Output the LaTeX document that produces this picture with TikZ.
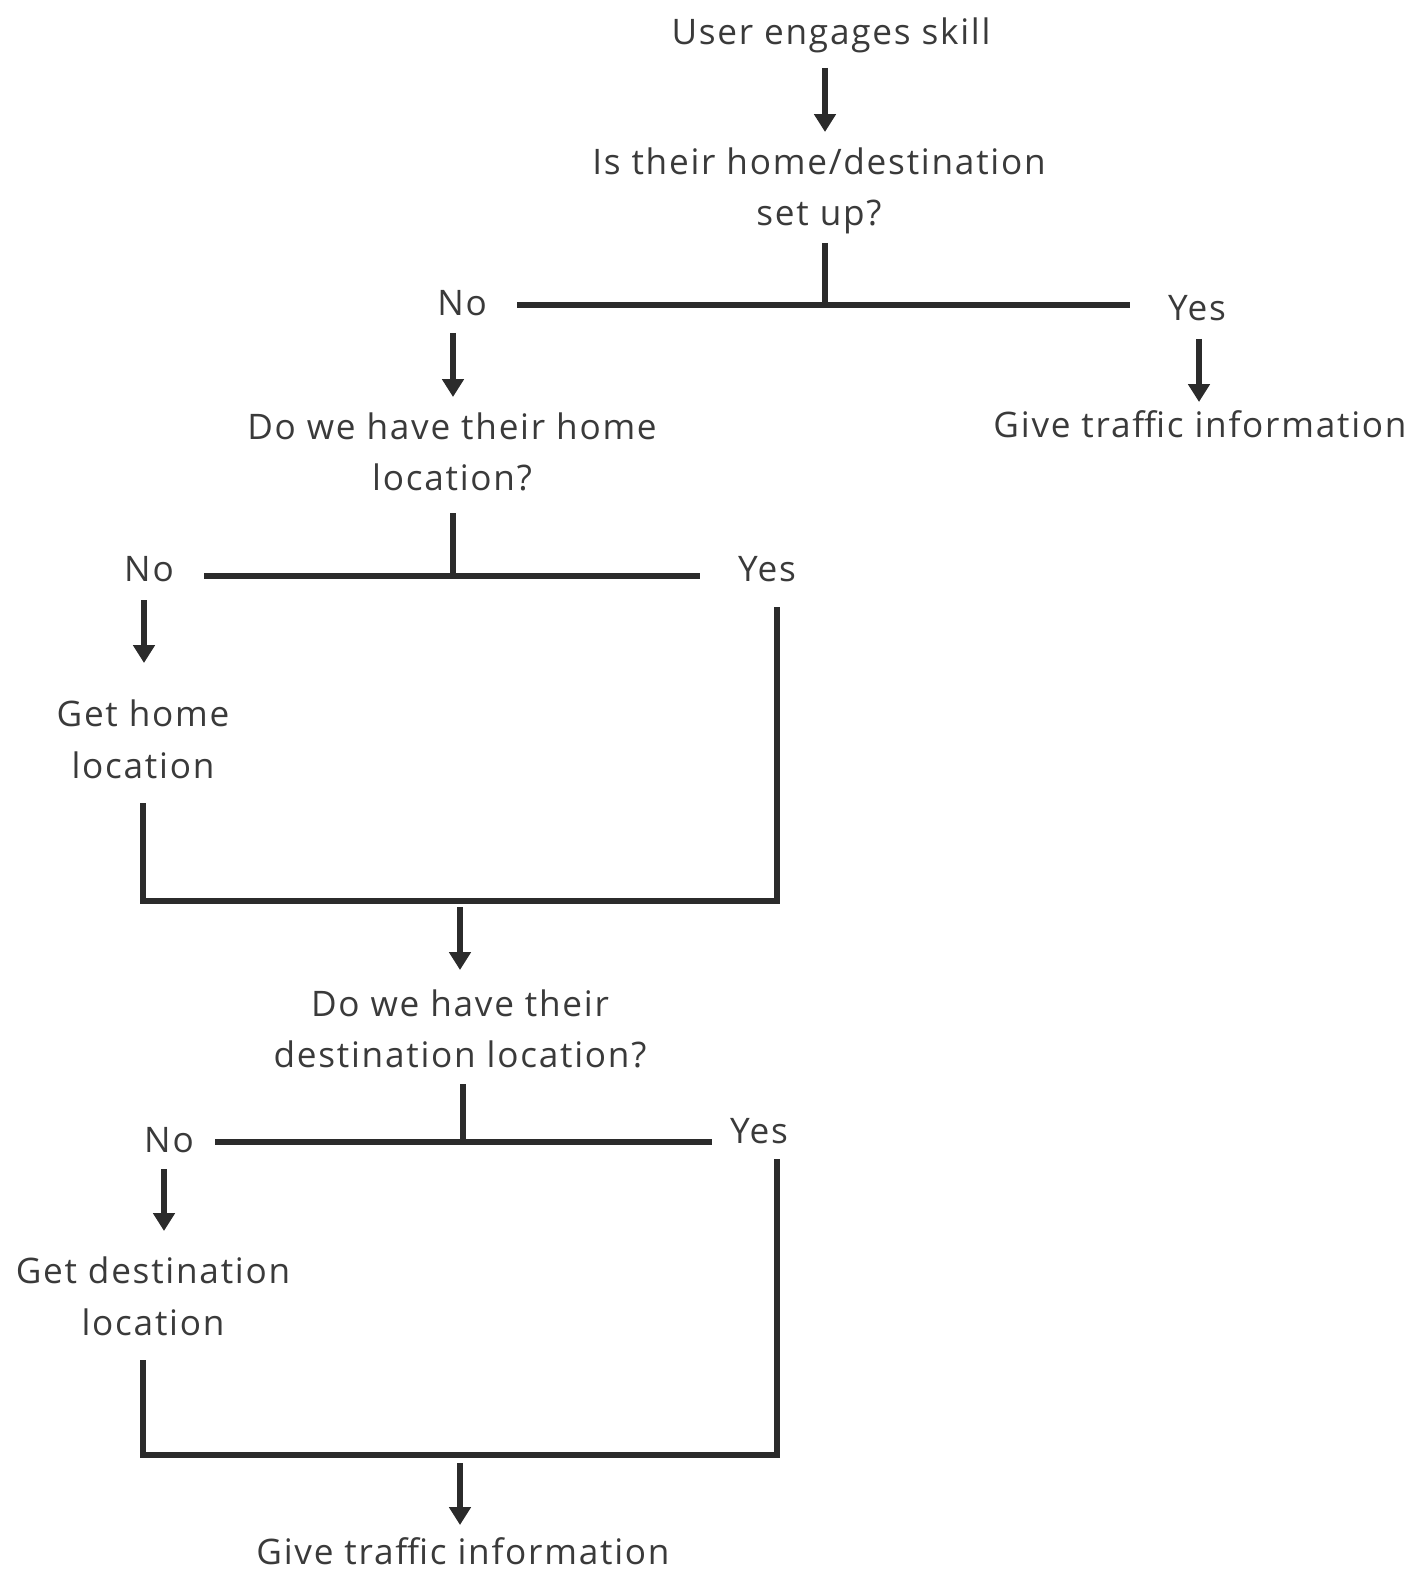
\documentclass[tikz,border=0pt]{standalone}
\usepackage{fontspec}
\setmainfont{Open Sans}[LetterSpace=5]
\usetikzlibrary{arrows.meta}
\definecolor{inkline}{HTML}{2B2B2B}
\definecolor{inktext}{HTML}{3A3A3A}
\tikzset{
  lbl/.style={align=center, inner sep=0pt, text=inktext, font=\fontsize{10}{14.7}\selectfont},
  flow/.style={line width=1.7pt, color=inkline},
  arr/.style={flow, -{Triangle[width=6pt,length=5.1pt]}}
}
\begin{document}
\begin{tikzpicture}[x=0.01cm,y=-0.01cm]
	\useasboundingbox (0,0) rectangle (1418,1573);
	% texts
	\node[lbl] (start) at (831,35) {User engages skill};
	\node[lbl] (q1) at (819,191) {Is their home/destination\\set up?};
	\node[lbl] (no1) at (462,303) {No};
	\node[lbl] (yes1) at (1197,308) {Yes};
	\node[lbl] (q2) at (452,452) {Do we have their home\\location?};
	\node[lbl] (done1) at (1200,424) {Give traffic information};
	\node[lbl] (no2) at (149,569) {No};
	\node[lbl] (yes2) at (767,569) {Yes};
	\node[lbl] (get1) at (143,739) {Get home\\location};
	\node[lbl] (q3) at (460,1029) {Do we have their\\destination location?};
	\node[lbl] (no3) at (169,1140) {No};
	\node[lbl] (yes3) at (759,1131) {Yes};
	\node[lbl] (get2) at (153,1296) {Get destination\\location};
	\node[lbl] (done2) at (463,1551) {Give traffic information};
	% line ends
	\coordinate (s1) at (825,68);   \coordinate (e1) at (825,132);
	\coordinate (t1) at (825,243);  \coordinate (m1) at (825,305);
	\coordinate (l1) at (517,305);  \coordinate (r1) at (1130,305);
	\coordinate (s2) at (453,333);  \coordinate (e2) at (453,397);
	\coordinate (s3) at (1199,339); \coordinate (e3) at (1199,402);
	\coordinate (t2) at (453,513);  \coordinate (m2) at (453,576);
	\coordinate (l2) at (204,576);  \coordinate (r2) at (700,576);
	\coordinate (s4) at (144,600);  \coordinate (e4) at (144,663);
	\coordinate (u1) at (143,803);  \coordinate (v1) at (777,607);
	\coordinate (s5) at (460,907);  \coordinate (e5) at (460,970);
	\coordinate (t3) at (463,1084); \coordinate (m3) at (463,1142);
	\coordinate (l3) at (215,1142); \coordinate (r3) at (712,1142);
	\coordinate (s6) at (164,1169); \coordinate (e6) at (164,1231);
	\coordinate (u2) at (143,1360); \coordinate (v2) at (777,1159);
	\coordinate (s7) at (460,1463); \coordinate (e7) at (460,1525);
	% connectors
	\draw[arr] (s1) -- (e1);
	\draw[flow] (t1) -- (m1) (l1) -- (r1);
	\draw[arr] (s2) -- (e2);
	\draw[arr] (s3) -- (e3);
	\draw[flow] (t2) -- (m2) (l2) -- (r2);
	\draw[arr] (s4) -- (e4);
	\draw[flow] (u1) -- (u1 |- 0,901) -- (v1 |- 0,901) -- (v1);
	\draw[arr] (s5) -- (e5);
	\draw[flow] (t3) -- (m3) (l3) -- (r3);
	\draw[arr] (s6) -- (e6);
	\draw[flow] (u2) -- (u2 |- 0,1455) -- (v2 |- 0,1455) -- (v2);
	\draw[arr] (s7) -- (e7);
\end{tikzpicture}
\end{document}
